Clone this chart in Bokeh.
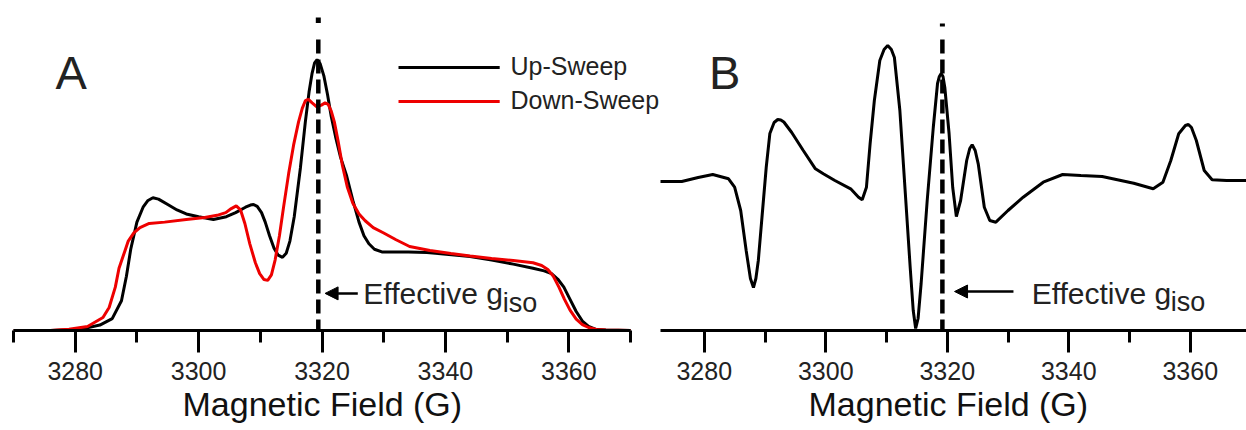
from bokeh.plotting import figure
from bokeh.layouts import row
from bokeh.models import FixedTicker, Range1d, Label, Arrow, NormalHead
from bokeh.embed import file_html
from bokeh.resources import INLINE

FONT = "Liberation Sans"

# Panel A: integrated EPR absorption (arbitrary units)
up_field = [3270, 3276, 3281, 3284, 3286, 3287.5, 3288.3, 3289, 3290, 3291, 3291.8, 3292.6, 3293.5,
            3295, 3296.5, 3298, 3300, 3302.4, 3304.5, 3306, 3307.6, 3308.4, 3308.9, 3309.5,
            3310.2, 3310.8, 3311.5, 3312.2, 3312.9, 3313.6, 3314.2, 3314.8, 3315.5, 3316.5,
            3317.3, 3317.9, 3318.4, 3318.8, 3319.2, 3319.7, 3320.3, 3320.9, 3321.5, 3322.2,
            3323, 3324, 3325, 3326, 3326.8, 3327.6, 3328.5, 3329.7, 3332, 3334, 3337, 3341,
            3344, 3347.5, 3351, 3354.2, 3356, 3357.2, 3358.2, 3359.2, 3360.2, 3361.2, 3362.2,
            3363.2, 3364.3, 3366, 3370]
up_signal = [0, 0, 0.5, 2, 4.4, 11, 20, 30, 40, 45.5, 48, 49, 48.5,
             46.5, 44.5, 43, 42, 41, 42, 43.5, 45.5, 46.3, 46.5, 45.8,
             43.5, 40, 35, 30.5, 27.8, 27, 28.5, 33, 42, 60,
             77, 88, 95, 98.8, 100, 98.5, 94, 87, 79, 71.5,
             64, 57, 48, 40, 35, 32, 30, 29, 29, 29, 28.8, 28,
             27.3, 26, 24.5, 23, 22, 21, 19, 16, 11.5, 7, 3.5,
             1.5, 0.5, 0.2, 0]
down_field = [3270, 3276, 3279, 3282, 3284.5, 3285.5, 3286.5, 3287.1, 3288, 3288.6, 3289.5,
              3290.5, 3292, 3294.5, 3298, 3301, 3303, 3304.4, 3305.3, 3306.1, 3306.8, 3307.5,
              3308.3, 3309.2, 3309.9, 3310.6, 3311.2, 3311.8, 3312.4, 3313.1, 3313.8, 3314.6,
              3315.4, 3316.2, 3316.8, 3317.3, 3317.8, 3318.4, 3319.2, 3319.9, 3320.5, 3321,
              3321.5, 3322, 3322.6, 3323.3, 3324.1, 3325, 3326, 3327, 3328.3, 3330, 3332,
              3334.2, 3337.5, 3340.9, 3344, 3347.5, 3351, 3354.2, 3355.6, 3356.6, 3357.5,
              3358.4, 3359.3, 3360.2, 3361.2, 3362.2, 3363.2, 3364.5, 3366, 3370]
down_signal = [0, 0, 0.5, 1.5, 4.8, 8.5, 16, 23, 29, 33, 36,
               38, 39.5, 40, 41, 41.7, 42.5, 43.5, 45, 46, 44.5, 39.5,
               32, 25, 21, 18.8, 18.5, 20.5, 26, 35, 46, 58,
               68.5, 77, 82, 84.8, 85.3, 84, 82.5, 83.2, 84, 83.5,
               81, 77, 70, 61, 53, 47, 43, 40.5, 38, 36, 33.5,
               31, 29.5, 28.4, 27.5, 26.6, 25.8, 25, 24, 22.5, 20,
               16, 11.5, 7.5, 4.2, 2.2, 1.1, 0.4, 0.2, 0]

# Panel B: first-derivative EPR spectrum (arbitrary units)
deriv_field = [3270.1, 3273, 3276.3, 3279, 3281.4, 3284, 3285, 3286, 3286.9, 3287.6, 3288.1,
               3288.5, 3288.9, 3289.5, 3290.2, 3290.8, 3291.5, 3292.1, 3292.6, 3293.1, 3294.4,
               3296.3, 3298.3, 3299.6, 3301.5, 3304.1, 3305.4, 3306, 3306.7, 3307.3, 3308,
               3308.9, 3309.6, 3310.2, 3310.8, 3311.3, 3312.2, 3313.1, 3313.9, 3314.4, 3314.8,
               3315.2, 3315.7, 3316.7, 3317.7, 3318.4, 3318.7, 3319, 3319.3, 3319.6, 3320.3,
               3320.9, 3321.5, 3322.2, 3323.2, 3323.7, 3324.1, 3324.6, 3325.1, 3326.1, 3327,
               3328, 3330, 3332.5, 3335.8, 3339, 3342, 3345.5, 3350.7, 3353.9, 3355.5, 3356.8,
               3358.1, 3359.2, 3359.7, 3360.2, 3361, 3362.3, 3363.6, 3366, 3369.3]
deriv_signal = [0, -1, -1, 3, 6, 1.7, -6.7, -30, -70, -98, -107,
                -98, -80, -37, 13, 47, 58, 61, 60.5, 58.5, 48,
                30, 11.7, 6.7, 0, -8.3, -16.7, -19.3, -6.7, 36.7, 80,
                120, 131, 135, 131, 123, 70, -13, -87, -130, -148,
                -138, -103, -20, 53, 97, 104, 107, 104, 93, 47,
                -7, -36, -20, 20, 32, 35.7, 30, 16.7, -26.7, -40,
                -41.7, -30, -16.7, -1.7, 6, 5, 4, -2.7, -8.3, -1.7, 20,
                46.7, 55, 56, 53, 40, 10, 0.7, 0, 0]

major_ticks = [3280, 3300, 3320, 3340, 3360]
minor_ticks = [3270, 3290, 3310, 3330, 3350, 3370]
x_label = "Magnetic Field (G)"
series_names = ["Up-Sweep", "Down-Sweep"]
series_colors = ["black", "#ee0000"]
panel_names = ["A", "B"]
g_iso_field = [3319.4, 3319.2]
field_span = (3270, 3370)


def make_fig(width, b_left, b_right, x_start, x_end, y_start, y_end, label_offset):
    p = figure(width=width, height=430, x_range=Range1d(x_start, x_end),
               y_range=Range1d(y_start, y_end), output_backend="svg",
               toolbar_location=None, y_axis_location=None, title_location="below",
               title=x_label,
               min_border_left=b_left, min_border_right=b_right,
               min_border_top=0, min_border_bottom=100)
    p.outline_line_color = None
    p.grid.visible = False
    p.background_fill_color = "white"
    p.border_fill_color = "white"
    ax = p.xaxis[0]
    ax.bounds = field_span
    ax.ticker = FixedTicker(ticks=major_ticks, minor_ticks=minor_ticks)
    ax.axis_line_width = 3
    ax.axis_line_color = "black"
    ax.major_tick_line_width = 3
    ax.minor_tick_line_width = 3
    ax.major_tick_in = 0
    ax.minor_tick_in = 0
    ax.major_tick_out = 22
    ax.minor_tick_out = 12
    ax.major_label_text_font = FONT
    ax.major_label_text_font_size = "25px"
    ax.major_label_text_color = "#222222"
    ax.major_label_standoff = 9
    # x-axis title drawn as the figure title below the axis, so it can be centred on the axis span
    t = p.title
    t.align = "left"
    t.offset = label_offset
    t.standoff = 0
    t.text_font = FONT
    t.text_font_size = "34px"
    t.text_font_style = "normal"
    t.text_color = "#111111"
    return p


def text(p, x, y, s, size):
    p.add_layout(Label(x=x, y=y, text=s, text_font=FONT, text_font_size=size,
                       text_color="#222222", text_baseline="alphabetic"))


def add_giso(p, xg, y_dot0, y_dot1, y_top, y_bot, tip_x, tail_x, y_arrow, txt_x, y_txt, iso_x, y_iso):
    p.segment(x0=[xg], y0=[y_dot0], x1=[xg], y1=[y_dot1], line_color="black", line_width=5)
    p.segment(x0=[xg], y0=[y_top], x1=[xg], y1=[y_bot], line_color="black", line_width=4.5,
              line_dash="14 6")
    p.add_layout(Arrow(end=NormalHead(size=13, fill_color="black", line_color="black"),
                       x_start=tail_x, y_start=y_arrow, x_end=tip_x, y_end=y_arrow,
                       line_width=2.5, line_color="black"))
    text(p, txt_x, y_txt, "Effective g", "30px")
    text(p, iso_x, y_iso, "iso", "27px")


# ---- Panel A ---- (frame runs on past 3370 so the legend text is not cut)
pa = make_fig(660, 13, 0, 3270, 3270 + 647 / 6.17, 0, 121.8, 169)
pa.line(up_field, up_signal, line_color=series_colors[0], line_width=3)
pa.line(down_field, down_signal, line_color=series_colors[1], line_width=3)
text(pa, 3276.8, 95.1, panel_names[0], "47px")
add_giso(pa, g_iso_field[0], 113.5, 115.5, 107.4, 0, 3320.5, 3325.8, 13.7,
         3326.7, 13.65, 3349.3, 10.3)
leg_y = [97.05, 84.5]
for name, col, yy in zip(series_names, series_colors, leg_y):
    pa.segment(x0=[3332.4], y0=[yy], x1=[3348.8], y1=[yy], line_color=col, line_width=3)
    text(pa, 3350.55, yy + 0.4, name, "25px")

# ---- Panel B ----
pb = make_fig(586, 0, 0, 3270 + 17 / 6.075, 3270 + 603 / 6.075, -150, 180, 148)
pb.line(deriv_field, deriv_signal, line_color="black", line_width=3)
text(pb, 3280.8, 107.8, panel_names[1], "47px")
add_giso(pb, g_iso_field[1], 154, 157, 141, -150, 3321.2, 3330.9, -111,
         3333.9, -113, 3356.8, -121.8)

layout = row(pa, pb, spacing=0)
open("out.html", "w").write(file_html(layout, INLINE))
